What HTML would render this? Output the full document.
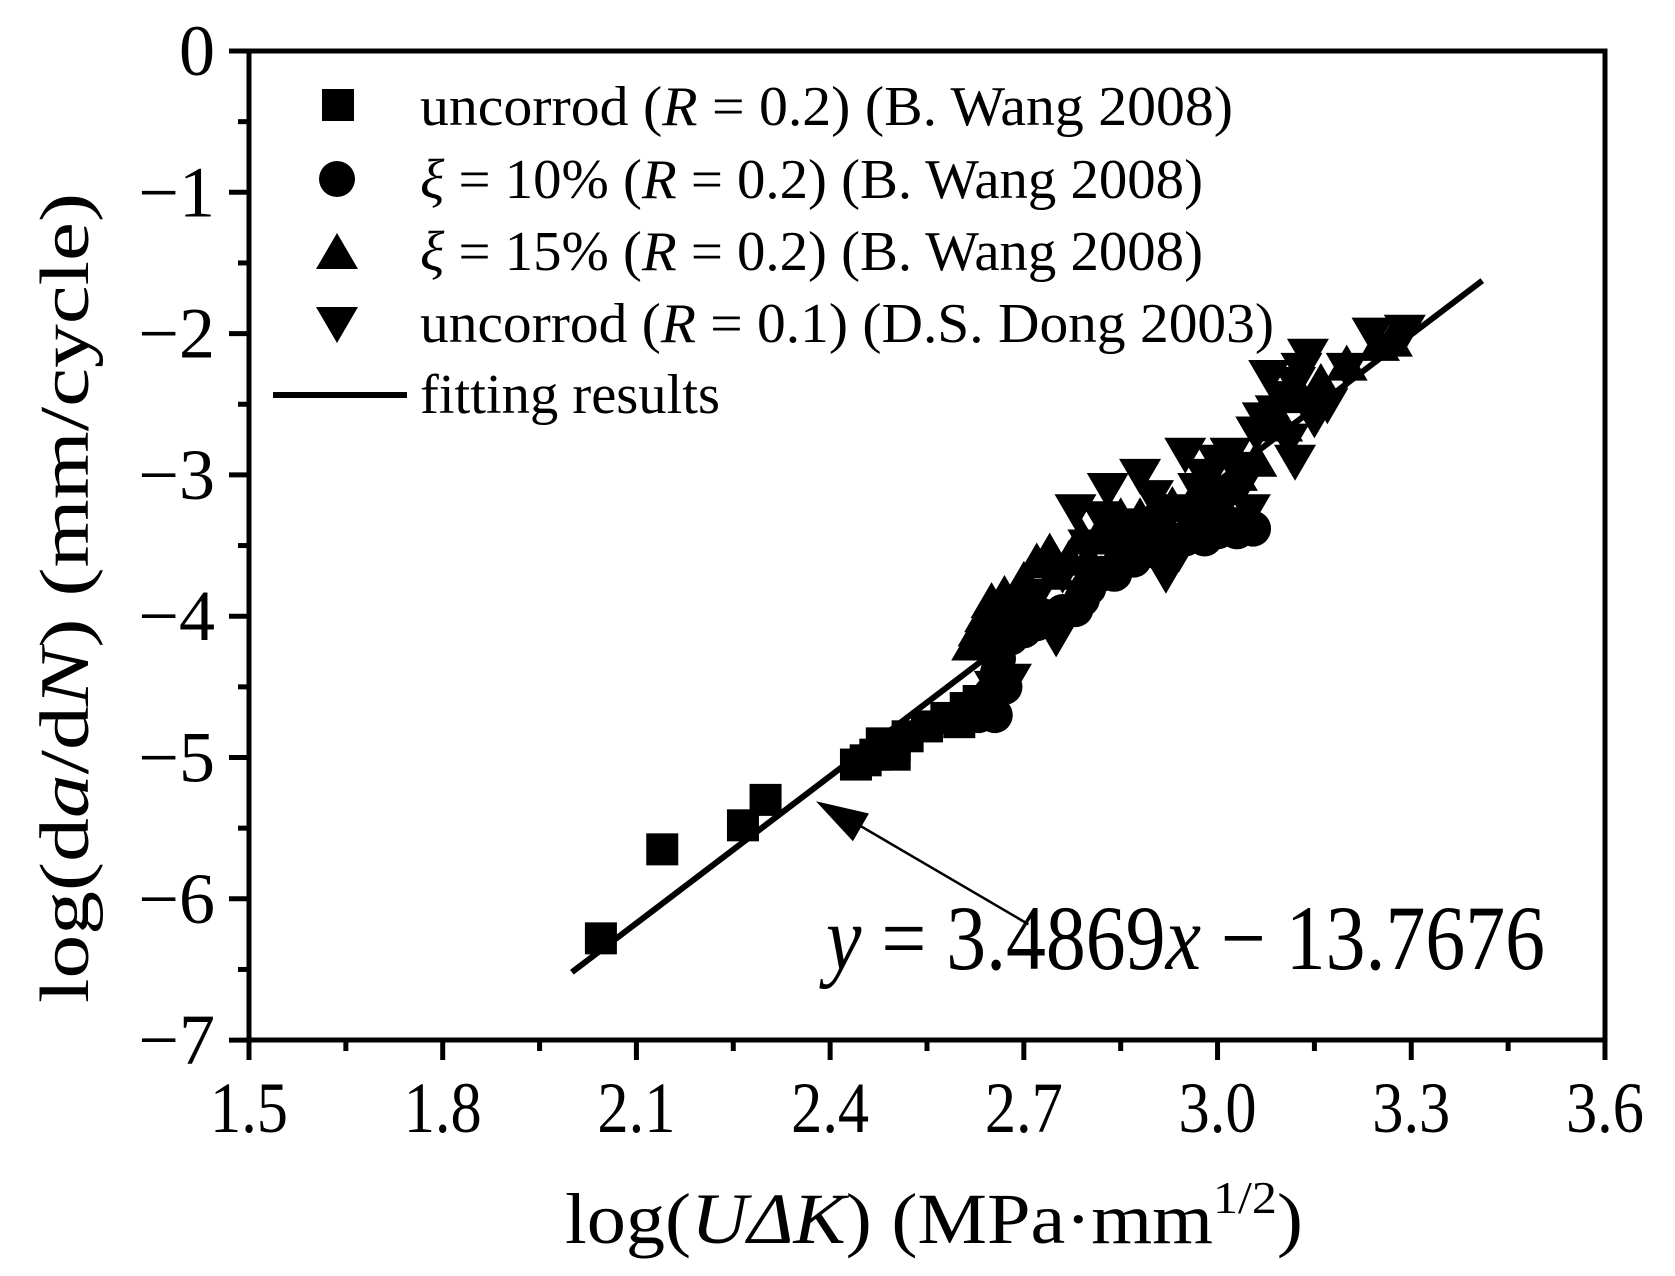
<!DOCTYPE html>
<html><head><meta charset="utf-8"><style>
html,body{margin:0;padding:0;background:#fff;}
svg{display:block;font-family:"Liberation Serif",serif;}
</style></head><body>
<svg id="s" width="1675" height="1276" viewBox="0 0 1675 1276" xmlns="http://www.w3.org/2000/svg">
<rect width="1675" height="1276" fill="#fff"/>
<g stroke="#000" stroke-width="5" fill="none" stroke-linecap="square">
<rect x="249" y="51" width="1356" height="989"/>
</g>
<g id="ticks" stroke="#000" stroke-width="5"></g>
<g font-size="72" fill="#000" id="labels"></g>
<g id="pts" fill="#000"></g>
<g stroke="#000" stroke-width="6">
<line id="fit" x1="0" y1="0" x2="0" y2="0"/>
<line id="arr" x1="0" y1="0" x2="0" y2="0" stroke-width="2.5"/>
</g>
<polygon id="head" fill="#000" points=""/>
<!-- legend -->
<rect x="322" y="89" width="32" height="32" fill="#000"/>
<circle cx="337" cy="179" r="18" fill="#000"/>
<polygon points="337,233 316,269 358,269" fill="#000"/>
<polygon points="316,307 358,307 337,343" fill="#000"/>
<line x1="273" y1="395" x2="407" y2="395" stroke="#000" stroke-width="6"/>
<g font-size="56" fill="#000">
<text x="420" y="125" textLength="813" lengthAdjust="spacingAndGlyphs">uncorrod (<tspan font-style="italic">R</tspan> = 0.2) (B. Wang 2008)</text>
<text x="420" y="198" textLength="783" lengthAdjust="spacingAndGlyphs"><tspan font-style="italic">ξ</tspan> = 10% (<tspan font-style="italic">R</tspan> = 0.2) (B. Wang 2008)</text>
<text x="420" y="270" textLength="783" lengthAdjust="spacingAndGlyphs"><tspan font-style="italic">ξ</tspan> = 15% (<tspan font-style="italic">R</tspan> = 0.2) (B. Wang 2008)</text>
<text x="420" y="342" textLength="854" lengthAdjust="spacingAndGlyphs">uncorrod (<tspan font-style="italic">R</tspan> = 0.1) (D.S. Dong 2003)</text>
<text x="420" y="413" textLength="300" lengthAdjust="spacingAndGlyphs">fitting results</text>
</g>
<text x="826" y="969" font-size="92" textLength="719" lengthAdjust="spacingAndGlyphs"><tspan font-style="italic">y</tspan> = 3.4869<tspan font-style="italic">x</tspan> − 13.7676</text>
<text x="565" y="1243" font-size="72" textLength="738" lengthAdjust="spacingAndGlyphs">log(<tspan font-style="italic">UΔK</tspan>) (MPa·mm<tspan font-size="46" dy="-30">1/2</tspan><tspan dy="30">)</tspan></text>
<text transform="translate(88,1003) rotate(-90)" font-size="70" textLength="810" lengthAdjust="spacingAndGlyphs">log(d<tspan font-style="italic">a</tspan>/d<tspan font-style="italic">N</tspan>) (mm/cycle)</text>
</svg>
<script>
var NS="http://www.w3.org/2000/svg";
function X(x){return 249+(x-1.5)*645.7;}
function Y(y){return 51-y*141.3;}
function el(t,a,p){var e=document.createElementNS(NS,t);for(var k in a)e.setAttribute(k,a[k]);(p||document.getElementById('s')).appendChild(e);return e;}
var tk=document.getElementById('ticks'),lb=document.getElementById('labels');
for(var i=0;i<=14;i++){var y=-i*0.5,py=Y(y);var L=(i%2==0)?20:11;el('line',{x1:249-L,y1:py,x2:249,y2:py},tk);
 if(i%2==0){var t=el('text',{x:215,y:py+24,'text-anchor':'end'},lb);t.textContent=(i==0?'0':'\u2212'+(i/2));}}
for(var i=0;i<=14;i++){var x=1.5+i*0.15,px=X(x);var L=(i%2==0)?20:11;el('line',{x1:px,y1:1040,x2:px,y2:1040+L},tk);
 if(i%2==0){var t=el('text',{x:px,y:1132,'text-anchor':'middle',textLength:78,lengthAdjust:'spacingAndGlyphs'},lb);t.textContent=x.toFixed(1);}}
var f=document.getElementById('fit');f.setAttribute('x1',X(2.0));f.setAttribute('y1',Y(-6.52));f.setAttribute('x2',X(3.41));f.setAttribute('y2',Y(-1.625));
var ax1=X(2.707),ay1=Y(-6.18),ax2=X(2.378),ay2=Y(-5.31);
var a=document.getElementById('arr');a.setAttribute('x1',ax1);a.setAttribute('y1',ay1);a.setAttribute('x2',ax2+40);a.setAttribute('y2',ay2+22);
var dx=ax1-ax2,dy=ay1-ay2,d=Math.hypot(dx,dy);dx/=d;dy/=d;var hl=52,hw=16;
var bx=ax2+dx*hl,by=ay2+dy*hl;
document.getElementById('head').setAttribute('points',ax2+','+ay2+' '+(bx-dy*hw)+','+(by+dx*hw)+' '+(bx+dy*hw)+','+(by-dx*hw));
var g=document.getElementById('pts');
function sq(x,y){el('rect',{x:X(x)-16,y:Y(y)-16,width:32,height:32},g);}
function ci(x,y){el('circle',{cx:X(x),cy:Y(y),r:18},g);}
function up(x,y){var px=X(x),py=Y(y);el('polygon',{points:px+','+(py-20)+' '+(px-21)+','+(py+16)+' '+(px+21)+','+(py+16)},g);}
function dn(x,y){var px=X(x),py=Y(y);el('polygon',{points:(px-21)+','+(py-16)+' '+(px+21)+','+(py-16)+' '+px+','+(py+20)},g);}
[[2.045,-6.28],[2.14,-5.65],[2.265,-5.48],[2.30,-5.3],[2.44,-5.05],[2.455,-5.02],[2.47,-4.98],[2.49,-4.95],[2.50,-4.92],[2.52,-4.85],[2.55,-4.78],[2.58,-4.72],[2.60,-4.75],[2.61,-4.65],[2.63,-4.6],[2.5,-4.98],[2.48,-4.9]].forEach(function(p){sq(p[0],p[1]);});
[[2.63,-4.7],[2.655,-4.7],[2.65,-4.55],[2.66,-4.4],[2.66,-4.3],[2.68,-4.15],[2.7,-4.1],[2.73,-4.0],[2.76,-3.97],[2.78,-3.95],[2.8,-3.8],[2.82,-3.7],[2.85,-3.62],[2.88,-3.55],[2.9,-3.5],[2.93,-3.48],[2.95,-3.45],[2.97,-3.42],[3.0,-3.4],[3.03,-3.4],[3.055,-3.38],[2.64,-4.6],[2.67,-4.5],[2.72,-4.05],[2.79,-3.88],[2.84,-3.7],[2.87,-3.6],[2.91,-3.55],[2.98,-3.45],[3.02,-3.35]].forEach(function(p){ci(p[0],p[1]);});
[[2.62,-4.2],[2.63,-4.1],[2.64,-4.0],[2.65,-3.9],[2.67,-3.85],[2.7,-3.75],[2.72,-3.62],[2.74,-3.55],[2.77,-3.6],[2.79,-3.45],[2.82,-3.4],[2.85,-3.3],[2.88,-3.3],[2.9,-3.28],[2.93,-3.22],[2.96,-3.2],[3.0,-3.1],[3.03,-3.0],[3.06,-2.9],[3.1,-2.65],[3.13,-2.45],[3.16,-2.35],[3.2,-2.22],[3.25,-2.08],[3.27,-2.05],[2.66,-4.05],[2.69,-3.95],[2.75,-3.7],[2.8,-3.6],[2.84,-3.45],[2.87,-3.4],[2.92,-3.35]].forEach(function(p){up(p[0],p[1]);});
[[2.655,-4.5],[2.68,-4.45],[2.75,-4.15],[2.7,-3.95],[2.78,-3.25],[2.8,-3.5],[2.83,-3.1],[2.86,-3.35],[2.88,-3.0],[2.9,-3.45],[2.92,-3.7],[2.94,-3.55],[2.95,-2.85],[2.97,-3.1],[2.98,-3.0],[3.0,-2.9],[3.01,-3.2],[3.02,-2.85],[3.04,-3.05],[3.05,-3.25],[3.07,-2.6],[3.08,-2.3],[3.1,-2.45],[3.11,-2.75],[3.12,-2.9],[3.12,-2.35],[3.14,-2.15],[3.15,-2.6],[3.17,-2.5],[3.2,-2.25],[3.24,-2.0],[3.29,-1.98],[2.87,-3.4],[2.92,-3.25],[2.98,-3.3],[3.03,-2.95],[2.72,-3.85],[2.76,-3.7],[2.82,-3.3],[2.9,-3.15],[2.96,-3.35],[3.06,-2.7],[3.09,-2.55],[3.13,-2.25]].forEach(function(p){dn(p[0],p[1]);});
</script>
</body></html>
